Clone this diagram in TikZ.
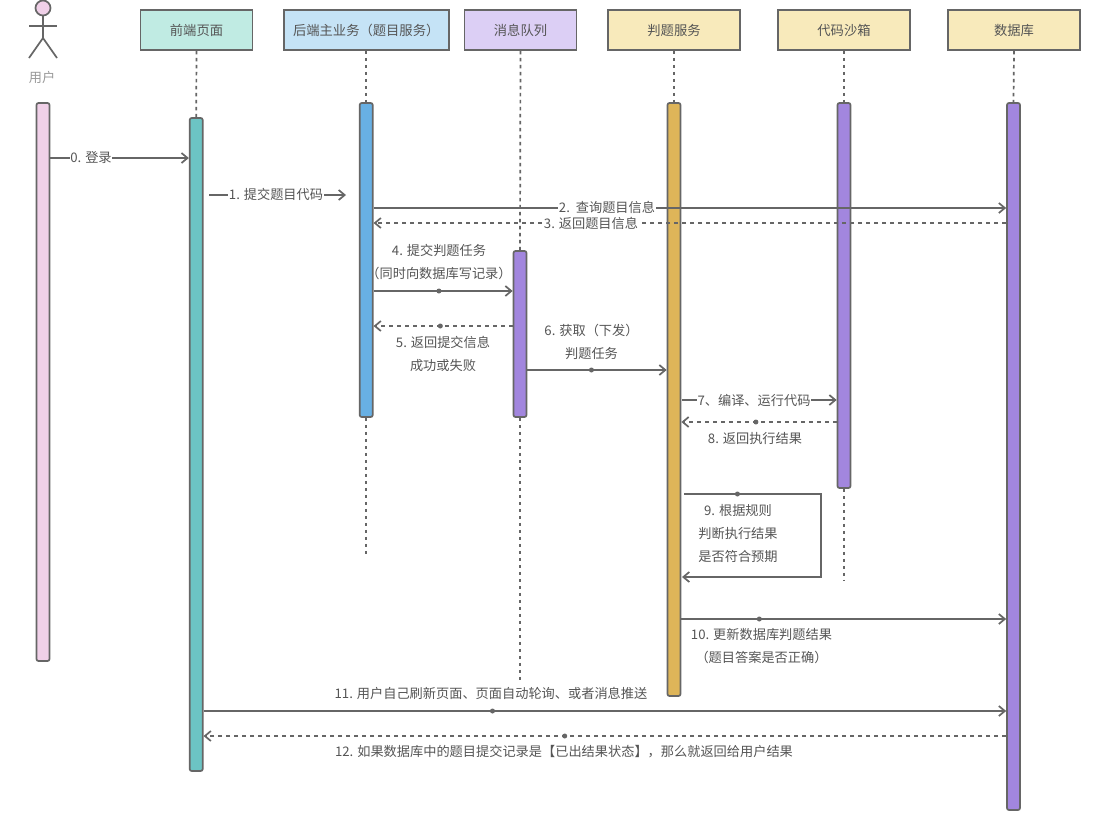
\documentclass[tikz,border=0pt]{standalone}
\usepackage{fontspec}
\setmainfont{Noto Sans CJK SC}
\usepackage{tikz}
\usetikzlibrary{arrows.meta}
\usetikzlibrary{positioning}

\definecolor{linegray}{HTML}{666666}
\definecolor{textgray}{HTML}{555555}
\definecolor{mintbox}{HTML}{C0EBE3}
\definecolor{bluebox}{HTML}{C5E3F6}
\definecolor{purplebox}{HTML}{DCCFF5}
\definecolor{yellowbox}{HTML}{F8EABB}
\definecolor{pinkbar}{HTML}{F0D0E8}
\definecolor{tealbar}{HTML}{6CC4C4}
\definecolor{bluebar}{HTML}{68B0E4}
\definecolor{purplebar}{HTML}{A286DE}
\definecolor{goldbar}{HTML}{DEB559}

\begin{document}
\begin{tikzpicture}[x=1pt,y=-1pt,>={Straight Barb[length=6pt,width=10pt]},line width=1.7pt,draw=linegray,
		head node/.style={rectangle,draw=linegray,minimum height=40pt,inner sep=0pt,text=textgray,font=\fontsize{13.3}{15}\selectfont},
		bar node/.style={rectangle,draw=linegray,rounded corners=2pt,minimum width=13pt,inner sep=0pt},
		life line/.style={draw=linegray,dash pattern=on 3.5pt off 3.5pt},
		msg/.style={->,draw=linegray},
		msg back/.style={->,draw=linegray,dash pattern=on 4pt off 4pt},
		msg label/.style={fill=white,inner sep=0.5pt,text=textgray,font=\fontsize{13.2}{15}\selectfont},
		note label/.style={inner sep=0pt,align=center,text=textgray,font=\fontsize{13.2}{23}\selectfont},
		dot node/.style={circle,fill=linegray,draw=none,minimum size=5pt,inner sep=0pt}]

	\useasboundingbox[fill=white] (0,0) rectangle (1112,822);

	% participants
	\node[head node,fill=mintbox,minimum width=112pt] (fronthead) at (196.5,30) {前端页面};
	\node[head node,fill=bluebox,minimum width=165pt] (backhead) at (366.2,30) {后端主业务（题目服务）};
	\node[head node,fill=purplebox,minimum width=112pt] (mqhead) at (520.5,30) {消息队列};
	\node[head node,fill=yellowbox,minimum width=132pt] (judgehead) at (674,30) {判题服务};
	\node[head node,fill=yellowbox,minimum width=132pt] (sandhead) at (844,30) {代码沙箱};
	\node[head node,fill=yellowbox,minimum width=132pt] (dbhead) at (1014,30) {数据库};

	% user
	\node[circle,draw=linegray,fill=pinkbar,minimum size=15pt,inner sep=0pt] (userface) at (43,8) {};
	\coordinate (userhip) at (43,38);
	\coordinate (userarml) at (29,26);
	\coordinate (userarmr) at (57,26);
	\coordinate (userlegl) at (29,58);
	\coordinate (userlegr) at (57,58);
	\draw[draw=linegray] (userface) -- (userhip);
	\draw[draw=linegray] (userarml) -- (userarmr);
	\draw[draw=linegray] (userlegl) -- (userhip) -- (userlegr);
	\node[inner sep=0pt,text=gray!80,font=\fontsize{13.2}{15}\selectfont] (username) at (42,77) {用户};

	% activation bars
	\node[bar node,fill=pinkbar,minimum height=558pt] (userbar) at (43,382) {};
	\node[bar node,fill=tealbar,minimum height=653pt] (frontbar) at (196.2,444.5) {};
	\node[bar node,fill=bluebar,minimum height=314pt] (backbar) at (366.2,260) {};
	\node[bar node,fill=purplebar,minimum height=166pt] (mqbar) at (520,334) {};
	\node[bar node,fill=goldbar,minimum height=593pt] (judgebar) at (674,399.5) {};
	\node[bar node,fill=purplebar,minimum height=385pt] (sandbar) at (844,295.5) {};
	\node[bar node,fill=purplebar,minimum height=707pt] (dbbar) at (1013.5,456.5) {};

	% life lines
	\coordinate (backend) at (366.2,555);
	\coordinate (mqend) at (520,680);
	\coordinate (sandend) at (844,580);
	\draw[life line] (fronthead.south) -- (frontbar.north);
	\draw[life line] (backhead.south) -- (backbar.north);
	\draw[life line] (backbar.south) -- (backend);
	\draw[life line] (mqhead.south) -- (mqbar.north);
	\draw[life line] (mqbar.south) -- (mqend);
	\draw[life line] (judgehead.south) -- (judgebar.north);
	\draw[life line] (sandhead.south) -- (sandbar.north);
	\draw[life line] (sandbar.south) -- (sandend);
	\draw[life line] (dbhead.south) -- (dbbar.north);

	% messages
	\draw[msg] (userbar.east |- 0,158) -- (frontbar.west |- 0,158);
	\node[msg label] (m0) at (91,158) {0. 登录};

	\coordinate (m1from) at (209,195);
	\coordinate (m1to) at (346,195);
	\draw[msg] (m1from) -- (m1to);
	\node[msg label] (m1) at (276,194.5) {1. 提交题目代码};

	\draw[msg] (backbar.east |- 0,208) -- (dbbar.west |- 0,208);
	\node[msg label] (m2) at (607,207) {2.\ \ 查询题目信息};

	\draw[msg back] (dbbar.west |- 0,223) -- (backbar.east |- 0,223);
	\node[msg label] (m3) at (591,223) {3. 返回题目信息};

	\draw[msg] (backbar.east |- 0,291) -- node[dot node,pos=0.47] (d4) {} (mqbar.west |- 0,291);
	\node[note label] (m4) at (439,262.5) {4. 提交判题任务\\（同时向数据库写记录）};

	\draw[msg back] (mqbar.west |- 0,326) -- node[dot node,pos=0.52] (d5) {} (backbar.east |- 0,326);
	\node[note label] (m5) at (443,354) {5. 返回提交信息\\成功或失败};

	\draw[msg] (mqbar.east |- 0,370) -- node[dot node,pos=0.46] (d6) {} (judgebar.west |- 0,370);
	\node[note label] (m6) at (591.5,342) {6. 获取（下发）\\判题任务};

	\coordinate (m7from) at (682,400);
	\draw[msg] (m7from) -- (sandbar.west |- 0,400);
	\node[msg label] (m7) at (754,400) {7、编译、运行代码};

	\draw[msg back] (sandbar.west |- 0,422) -- node[dot node,pos=0.52] (d8) {} (judgebar.east |- 0,422);
	\node[note label] (m8) at (755,438) {8. 返回执行结果};

	\coordinate (m9a) at (684,494);
	\coordinate (m9b) at (821,494);
	\coordinate (m9c) at (821,577);
	\coordinate (m9d) at (682,577);
	\draw[msg] (m9a) -- node[dot node,pos=0.39] (d9) {} (m9b) -- (m9c) -- (m9d);
	\node[note label] (m9) at (738,533.5) {9. 根据规则\\判断执行结果\\是否符合预期};

	\draw[msg] (judgebar.east |- 0,619) -- node[dot node,pos=0.24] (d10) {} (dbbar.west |- 0,619);
	\node[note label] (m10) at (761.5,646.5) {10. 更新数据库判题结果\\（题目答案是否正确）};

	\draw[msg] (frontbar.east |- 0,711) -- node[dot node,pos=0.36] (d11) {} (dbbar.west |- 0,711);
	\node[note label] (m11) at (491,693) {11. 用户自己刷新页面、页面自动轮询、或者消息推送};

	\draw[msg back] (dbbar.west |- 0,736) -- node[dot node,pos=0.55] (d12) {} (frontbar.east |- 0,736);
	\node[note label] (m12) at (564,752) {12. 如果数据库中的题目提交记录是【已出结果状态】，那么就返回给用户结果};

\end{tikzpicture}
\end{document}
